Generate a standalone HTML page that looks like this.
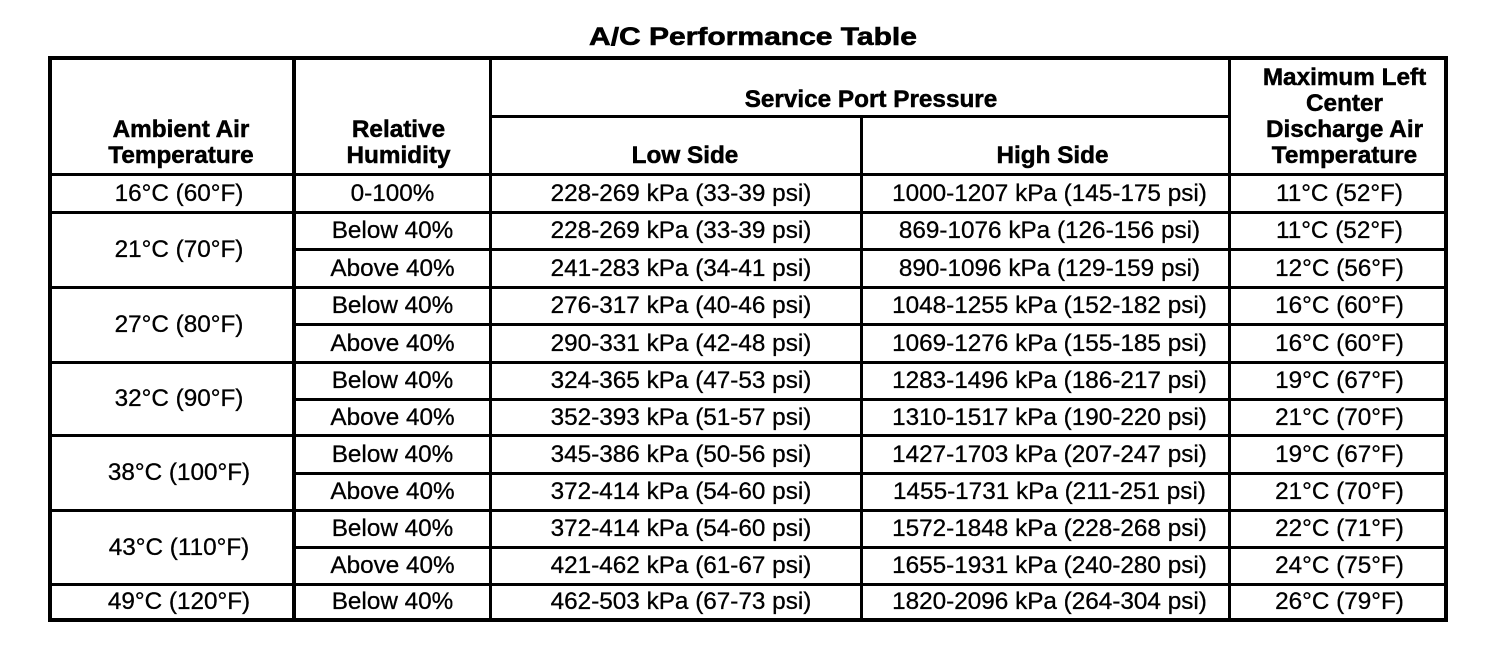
<!DOCTYPE html>
<html>
<head>
<meta charset="utf-8">
<style>
  html,body{margin:0;padding:0;background:#fff;}
  body{width:1504px;height:666px;position:relative;overflow:hidden;font-family:"Liberation Sans",Arial,Helvetica,sans-serif;color:#000;}
  .h{position:absolute;background:#000;}
  .c{position:absolute;display:flex;align-items:center;justify-content:center;font-size:24.3px;white-space:nowrap;-webkit-text-stroke:0.3px #000;}
  .t{position:absolute;font-size:24.3px;font-weight:bold;line-height:26px;text-align:center;white-space:nowrap;-webkit-text-stroke:0.5px #000;}
  .title{position:absolute;left:0;width:1506px;top:22px;font-size:25px;line-height:30px;font-weight:bold;text-align:center;transform:scaleX(1.2);transform-origin:753px 50%;-webkit-text-stroke:0.6px #000;}
  .c1{left:59px;width:240px;}
  .c2{left:296px;width:193px;}
  .c3{left:497px;width:368px;}
  .c4{left:867px;width:365px;}
  .c5{left:1233px;width:213px;}
</style>
</head>
<body>
<div class="title">A/C Performance Table</div>

<!-- outer border -->
<div class="h" style="left:48px;top:56px;width:1400px;height:4px;"></div>
<div class="h" style="left:48px;top:618px;width:1400px;height:4px;"></div>
<div class="h" style="left:48px;top:56px;width:4px;height:566px;"></div>
<div class="h" style="left:1444px;top:56px;width:4px;height:566px;"></div>

<!-- vertical lines -->
<div class="h" style="left:292px;top:56px;width:4px;height:566px;"></div>
<div class="h" style="left:489px;top:56px;width:3px;height:566px;"></div>
<div class="h" style="left:860px;top:115px;width:3px;height:507px;"></div>
<div class="h" style="left:1228px;top:56px;width:3px;height:566px;"></div>

<!-- header horizontal -->
<div class="h" style="left:489px;top:115px;width:742px;height:3px;"></div>
<div class="h" style="left:48px;top:173px;width:1400px;height:3px;"></div>

<!-- full-width group lines -->
<div class="h" style="left:48px;top:211px;width:1400px;height:3px;"></div>
<div class="h" style="left:48px;top:286px;width:1400px;height:3px;"></div>
<div class="h" style="left:48px;top:361px;width:1400px;height:3px;"></div>
<div class="h" style="left:48px;top:434px;width:1400px;height:3px;"></div>
<div class="h" style="left:48px;top:509px;width:1400px;height:3px;"></div>
<div class="h" style="left:48px;top:583px;width:1400px;height:3px;"></div>
<!-- inner lines -->
<div class="h" style="left:292px;top:248px;width:1156px;height:3px;"></div>
<div class="h" style="left:292px;top:323px;width:1156px;height:3px;"></div>
<div class="h" style="left:292px;top:398px;width:1156px;height:3px;"></div>
<div class="h" style="left:292px;top:472px;width:1156px;height:3px;"></div>
<div class="h" style="left:292px;top:546px;width:1156px;height:3px;"></div>

<!-- headers -->
<div class="t" style="left:61px;width:240px;top:117px;">Ambient Air<br>Temperature</div>
<div class="t" style="left:302px;width:193px;top:117px;">Relative<br>Humidity</div>
<div class="t" style="left:503px;width:736px;top:87px;">Service Port Pressure</div>
<div class="t" style="left:501px;width:368px;top:143px;">Low Side</div>
<div class="t" style="left:870px;width:365px;top:143px;">High Side</div>
<div class="t" style="left:1238px;width:213px;top:65px;">Maximum Left<br>Center<br>Discharge Air<br>Temperature</div>

<!-- column 1 -->
<div class="c c1" style="top:176px;height:35px;">16°C (60°F)</div>
<div class="c c1" style="top:214px;height:72px;">21°C (70°F)</div>
<div class="c c1" style="top:289px;height:72px;">27°C (80°F)</div>
<div class="c c1" style="top:364px;height:70px;">32°C (90°F)</div>
<div class="c c1" style="top:437px;height:72px;">38°C (100°F)</div>
<div class="c c1" style="top:512px;height:71px;">43°C (110°F)</div>
<div class="c c1" style="top:586px;height:32px;">49°C (120°F)</div>

<!-- row 1 -->
<div class="c c2" style="top:176px;height:35px;">0-100%</div>
<div class="c c3" style="top:176px;height:35px;">228-269 kPa (33-39 psi)</div>
<div class="c c4" style="top:176px;height:35px;">1000-1207 kPa (145-175 psi)</div>
<div class="c c5" style="top:176px;height:35px;">11°C (52°F)</div>
<!-- row 2 -->
<div class="c c2" style="top:214px;height:34px;">Below 40%</div>
<div class="c c3" style="top:214px;height:34px;">228-269 kPa (33-39 psi)</div>
<div class="c c4" style="top:214px;height:34px;">869-1076 kPa (126-156 psi)</div>
<div class="c c5" style="top:214px;height:34px;">11°C (52°F)</div>
<!-- row 3 -->
<div class="c c2" style="top:251px;height:35px;">Above 40%</div>
<div class="c c3" style="top:251px;height:35px;">241-283 kPa (34-41 psi)</div>
<div class="c c4" style="top:251px;height:35px;">890-1096 kPa (129-159 psi)</div>
<div class="c c5" style="top:251px;height:35px;">12°C (56°F)</div>
<!-- row 4 -->
<div class="c c2" style="top:289px;height:34px;">Below 40%</div>
<div class="c c3" style="top:289px;height:34px;">276-317 kPa (40-46 psi)</div>
<div class="c c4" style="top:289px;height:34px;">1048-1255 kPa (152-182 psi)</div>
<div class="c c5" style="top:289px;height:34px;">16°C (60°F)</div>
<!-- row 5 -->
<div class="c c2" style="top:326px;height:35px;">Above 40%</div>
<div class="c c3" style="top:326px;height:35px;">290-331 kPa (42-48 psi)</div>
<div class="c c4" style="top:326px;height:35px;">1069-1276 kPa (155-185 psi)</div>
<div class="c c5" style="top:326px;height:35px;">16°C (60°F)</div>
<!-- row 6 -->
<div class="c c2" style="top:364px;height:34px;">Below 40%</div>
<div class="c c3" style="top:364px;height:34px;">324-365 kPa (47-53 psi)</div>
<div class="c c4" style="top:364px;height:34px;">1283-1496 kPa (186-217 psi)</div>
<div class="c c5" style="top:364px;height:34px;">19°C (67°F)</div>
<!-- row 7 -->
<div class="c c2" style="top:401px;height:33px;">Above 40%</div>
<div class="c c3" style="top:401px;height:33px;">352-393 kPa (51-57 psi)</div>
<div class="c c4" style="top:401px;height:33px;">1310-1517 kPa (190-220 psi)</div>
<div class="c c5" style="top:401px;height:33px;">21°C (70°F)</div>
<!-- row 8 -->
<div class="c c2" style="top:437px;height:35px;">Below 40%</div>
<div class="c c3" style="top:437px;height:35px;">345-386 kPa (50-56 psi)</div>
<div class="c c4" style="top:437px;height:35px;">1427-1703 kPa (207-247 psi)</div>
<div class="c c5" style="top:437px;height:35px;">19°C (67°F)</div>
<!-- row 9 -->
<div class="c c2" style="top:475px;height:34px;">Above 40%</div>
<div class="c c3" style="top:475px;height:34px;">372-414 kPa (54-60 psi)</div>
<div class="c c4" style="top:475px;height:34px;">1455-1731 kPa (211-251 psi)</div>
<div class="c c5" style="top:475px;height:34px;">21°C (70°F)</div>
<!-- row 10 -->
<div class="c c2" style="top:512px;height:34px;">Below 40%</div>
<div class="c c3" style="top:512px;height:34px;">372-414 kPa (54-60 psi)</div>
<div class="c c4" style="top:512px;height:34px;">1572-1848 kPa (228-268 psi)</div>
<div class="c c5" style="top:512px;height:34px;">22°C (71°F)</div>
<!-- row 11 -->
<div class="c c2" style="top:549px;height:34px;">Above 40%</div>
<div class="c c3" style="top:549px;height:34px;">421-462 kPa (61-67 psi)</div>
<div class="c c4" style="top:549px;height:34px;">1655-1931 kPa (240-280 psi)</div>
<div class="c c5" style="top:549px;height:34px;">24°C (75°F)</div>
<!-- row 12 -->
<div class="c c2" style="top:586px;height:32px;">Below 40%</div>
<div class="c c3" style="top:586px;height:32px;">462-503 kPa (67-73 psi)</div>
<div class="c c4" style="top:586px;height:32px;">1820-2096 kPa (264-304 psi)</div>
<div class="c c5" style="top:586px;height:32px;">26°C (79°F)</div>
</body>
</html>
